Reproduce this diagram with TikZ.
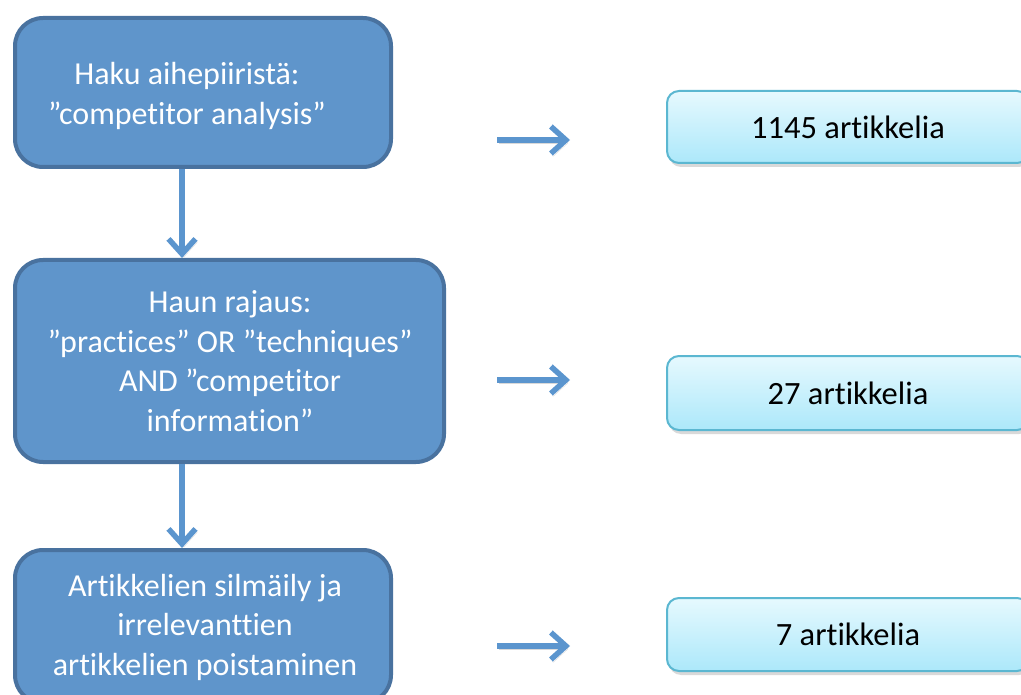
\documentclass[tikz,border=0pt]{standalone}
\usepackage{fontspec}
\setmainfont{Carlito}[Ligatures=NoCommon]
\usetikzlibrary{arrows.meta,shadows}

\definecolor{stepfill}{HTML}{5F95CB}
\definecolor{stepline}{HTML}{49729F}
\definecolor{arrowblue}{HTML}{5B95CE}
\definecolor{counttop}{HTML}{E6F9FE}
\definecolor{countbottom}{HTML}{ACE8FA}
\definecolor{countline}{HTML}{5BB7D1}

\tikzset{
  stepbox/.style={draw=stepline, fill=stepfill, line width=4pt, rounded corners=28pt, inner sep=0pt},
  steplabel/.style={text=white, align=center, font=\fontsize{32}{39.5}\selectfont},
  countbox/.style={draw=countline, line width=2pt, rounded corners=12pt, top color=counttop, bottom color=countbottom,
    minimum width=362pt, font=\fontsize{32.5}{38}\selectfont,
    drop shadow={shadow xshift=2pt, shadow yshift=-4pt, opacity=0.3}},
  flowarrow/.style={draw=arrowblue, line width=5.5pt, -{Straight Barb[length=15pt,width=27pt]},
    preaction={draw=black, opacity=0.15, transform canvas={shift={(2pt,-3pt)}}}}
}

\begin{document}
\begin{tikzpicture}[x=1pt, y=-1pt]
\useasboundingbox (0, 0) rectangle (1021, 695);
\clip (0, 0) rectangle (1021, 695);

\node[stepbox, minimum width=376pt, minimum height=149pt] (search box) at (203, 92.5) {};
\node[steplabel] (search label) at (187, 96) {Haku aihepiiristä:\\”competitor analysis”};

\node[stepbox, minimum width=429pt, minimum height=202pt] (limit box) at (229.5, 361) {};
\node[steplabel] (limit label) at (230, 361) {Haun rajaus:\\”practices” OR ”techniques”\\AND ”competitor\\information”};

\node[stepbox, minimum width=376pt, minimum height=153pt] (screen box) at (203, 626.5) {};
\node[steplabel] (screen label) at (205, 627) {Artikkelien silmäily ja\\irrelevanttien\\artikkelien poistaminen};

\node[countbox, minimum height=72pt] (all count) at (848, 127) {1145 artikkelia};
\node[countbox, minimum height=74pt] (limited count) at (848, 393) {27 artikkelia};
\node[countbox, minimum height=73pt] (final count) at (848, 634.5) {7 artikkelia};

\draw[flowarrow] ([xshift=-21pt] search box.south) -- ([xshift=-21pt] search box.south |- limit box.north);
\draw[flowarrow] ([xshift=-47.5pt] limit box.south) -- ([xshift=-47.5pt] limit box.south |- screen box.north);

\coordinate (all from) at (497, 140);
\coordinate (all to) at (570, 140);
\coordinate (limited from) at (497, 380);
\coordinate (limited to) at (570, 380);
\coordinate (final from) at (497, 646);
\coordinate (final to) at (570, 646);

\draw[flowarrow] (all from) -- (all to);
\draw[flowarrow] (limited from) -- (limited to);
\draw[flowarrow] (final from) -- (final to);
\end{tikzpicture}
\end{document}
